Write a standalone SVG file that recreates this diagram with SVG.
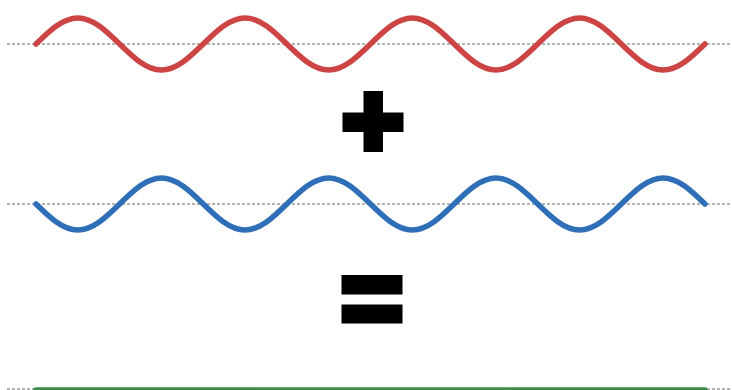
<svg xmlns="http://www.w3.org/2000/svg" width="732" height="390" viewBox="0 0 732 390">
<style>
.axis{stroke:#666;stroke-width:1;stroke-dasharray:3,2;fill:none}
.wave{fill:none;stroke-width:5.5;stroke-linecap:round;stroke-linejoin:round}
.red{stroke:#cc4444}
.blue{stroke:#2f6fb8}
.green{stroke:#3b8c4b}
.sym{fill:#000}
</style>
<rect width="732" height="390" fill="#fff"/>
<g id="axes">
<line class="axis" x1="7" y1="44" x2="732" y2="44"/>
<line class="axis" x1="7" y1="204" x2="732" y2="204"/>
<line class="axis" x1="7" y1="389" x2="732" y2="389"/>
</g>
<g id="wave-red">
<path class="wave red" d="M36,44 c13.64,-13.32 26.68,-26 41.81,-26 s28.17,12.68 41.81,26 s26.68,26 41.81,26 s28.17,-12.68 41.81,-26 s26.68,-26 41.81,-26 s28.17,12.68 41.81,26 s26.68,26 41.81,26 s28.17,-12.68 41.81,-26 s26.68,-26 41.81,-26 s28.17,12.68 41.81,26 s26.68,26 41.81,26 s28.17,-12.68 41.81,-26 s26.68,-26 41.81,-26 s28.17,12.68 41.81,26 s26.68,26 41.81,26 s28.17,-12.68 41.81,-26"/>
</g>
<g id="plus">
<rect class="sym" x="363.5" y="91" width="19.5" height="61"/>
<rect class="sym" x="342.5" y="112.5" width="61" height="19.5"/>
</g>
<g id="wave-blue">
<path class="wave blue" d="M36,204 c13.64,13.32 26.68,26 41.81,26 s28.17,-12.68 41.81,-26 s26.68,-26 41.81,-26 s28.17,12.68 41.81,26 s26.68,26 41.81,26 s28.17,-12.68 41.81,-26 s26.68,-26 41.81,-26 s28.17,12.68 41.81,26 s26.68,26 41.81,26 s28.17,-12.68 41.81,-26 s26.68,-26 41.81,-26 s28.17,12.68 41.81,26 s26.68,26 41.81,26 s28.17,-12.68 41.81,-26 s26.68,-26 41.81,-26 s28.17,12.68 41.81,26"/>
</g>
<g id="equals">
<rect class="sym" x="341.5" y="275" width="61" height="19.5"/>
<rect class="sym" x="341.5" y="304.5" width="61" height="19"/>
</g>
<g id="wave-green">
<line class="wave green" x1="36" y1="390" x2="705" y2="390"/>
</g>
</svg>
